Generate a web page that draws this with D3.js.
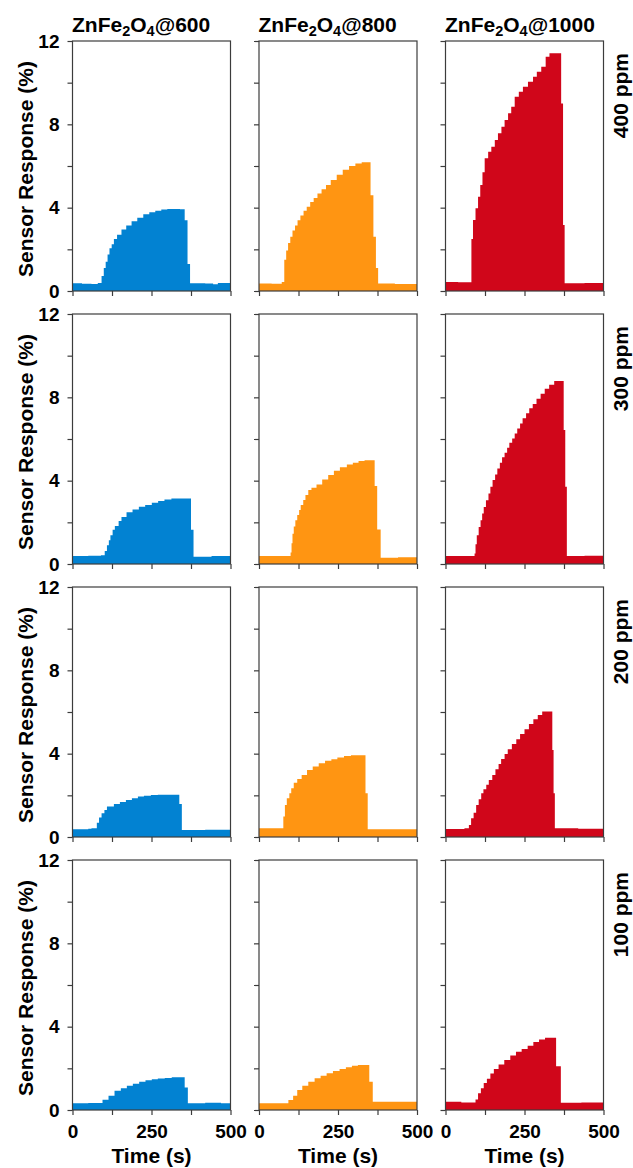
<!DOCTYPE html>
<html>
<head>
<meta charset="utf-8">
<script src="https://cdn.jsdelivr.net/npm/d3@7"></script>
<style>
  html, body { margin: 0; padding: 0; background: #fff; }
  svg { display: block; font-family: "Liberation Sans", Arial, Helvetica, sans-serif; }
</style>
</head>
<body>
<svg id="chart" width="633" height="1168"></svg>
<script>
// Calcination temperatures (columns) and gas concentrations (rows)
const temperatures = [600, 800, 1000];
const concentrations = ["400 ppm", "300 ppm", "200 ppm", "100 ppm"];
const seriesColors = ["#0282d2", "#ff9512", "#d0061a"];

const xTickValues = [0, 125, 250, 375, 500];
const xTickLabels = [0, 250, 500];
const yTickValues = [0, 2, 4, 6, 8, 10, 12];
const yTickLabels = [0, 4, 8, 12];

// Sensor response traces: [time (s), response (%)], sampled at each step
const resp600_400 = [[0,0.37],[30,0.35],[60,0.34],[80,0.38],[92,0.72],[99,1.1],[105,1.4],[111,1.75],[117,2.05],[124,2.25],[131,2.5],[141,2.7],[155,2.95],[170,3.15],[187,3.35],[205,3.52],[224,3.68],[243,3.78],[262,3.85],[281,3.91],[300,3.94],[340,3.92],[355,3.4],[364,1.3],[372,0.37],[420,0.36],[445,0.33],[460,0.38],[500,0.38]];
const resp800_400 = [[0,0.36],[40,0.35],[72,0.43],[80,1.5],[86,1.95],[92,2.3],[99,2.6],[106,2.9],[114,3.15],[122,3.4],[131,3.62],[141,3.85],[151,4.05],[162,4.27],[173,4.47],[185,4.68],[198,4.88],[212,5.09],[227,5.33],[246,5.58],[265,5.82],[285,6.0],[305,6.12],[325,6.18],[353,4.6],[362,2.6],[370,1.1],[377,0.36],[430,0.34],[500,0.33]];
const resp1000_400 = [[0,0.43],[40,0.42],[82,2.5],[87,3.41],[95,3.97],[103,4.53],[110,5.09],[117,5.7],[124,6.37],[135,6.69],[145,6.93],[156,7.25],[166,7.57],[177,7.89],[187,8.21],[198,8.53],[208,8.85],[219,9.33],[232,9.57],[245,9.81],[261,10.05],[277,10.29],[289,10.53],[303,10.77],[317,11.25],[329,11.41],[366,9.0],[372,3.17],[377,0.37],[440,0.38],[500,0.42]];

const resp600_300 = [[0,0.38],[50,0.4],[90,0.42],[102,0.63],[109,0.9],[115,1.14],[120,1.38],[127,1.65],[134,1.83],[146,2.07],[155,2.26],[171,2.49],[190,2.62],[210,2.75],[230,2.83],[251,2.94],[271,3.02],[291,3.1],[313,3.15],[375,1.64],[383,0.35],[440,0.38],[500,0.42]];
const resp800_300 = [[0,0.38],[50,0.39],[100,0.55],[103,1.0],[106,1.45],[110,1.8],[115,2.1],[121,2.35],[127,2.59],[132,2.83],[140,3.07],[147,3.31],[156,3.55],[166,3.66],[182,3.82],[200,4.06],[219,4.27],[237,4.48],[256,4.64],[278,4.78],[297,4.86],[315,4.94],[334,4.98],[366,3.74],[374,1.66],[385,0.3],[440,0.33],[500,0.36]];
const resp1000_300 = [[0,0.39],[50,0.38],[92,0.5],[95,0.95],[99,1.38],[105,1.78],[111,2.1],[116,2.42],[121,2.74],[128,3.06],[136,3.38],[142,3.71],[149,4.03],[157,4.3],[164,4.59],[172,4.86],[179,5.12],[187,5.34],[195,5.58],[202,5.82],[211,6.03],[219,6.27],[227,6.51],[236,6.75],[244,7.0],[255,7.24],[265,7.48],[276,7.68],[288,7.93],[301,8.17],[314,8.41],[328,8.6],[344,8.79],[374,6.43],[379,3.71],[384,0.39],[440,0.4],[500,0.4]];

const resp600_200 = [[0,0.37],[50,0.4],[60,0.42],[77,0.69],[84,0.94],[92,1.14],[101,1.3],[109,1.46],[131,1.58],[150,1.68],[169,1.78],[188,1.86],[207,1.94],[226,1.98],[248,2.02],[270,2.03],[338,1.58],[346,0.34],[420,0.35],[500,0.35]];
const resp800_200 = [[0,0.42],[50,0.42],[77,0.98],[82,1.54],[88,1.86],[96,2.1],[102,2.34],[110,2.61],[121,2.78],[135,2.98],[152,3.22],[170,3.38],[189,3.54],[209,3.66],[229,3.73],[248,3.82],[269,3.89],[291,3.92],[337,2.1],[344,0.37],[420,0.37],[500,0.38]];
const resp1000_200 = [[0,0.38],[40,0.38],[60,0.42],[74,0.58],[81,0.9],[89,1.17],[97,1.54],[105,1.81],[113,2.1],[120,2.29],[129,2.51],[137,2.74],[148,2.98],[158,3.25],[168,3.5],[176,3.74],[187,3.98],[197,4.21],[210,4.46],[224,4.69],[236,4.94],[250,5.17],[264,5.42],[278,5.65],[292,5.86],[306,6.02],[338,4.18],[342,2.1],[346,0.42],[420,0.4],[500,0.42]];

const resp600_100 = [[0,0.32],[50,0.34],[95,0.49],[114,0.69],[133,0.92],[153,1.05],[172,1.16],[191,1.26],[211,1.36],[231,1.43],[251,1.48],[270,1.51],[292,1.54],[314,1.57],[355,1.08],[365,0.32],[420,0.35],[470,0.33],[500,0.3]];
const resp800_100 = [[0,0.32],[50,0.32],[93,0.48],[108,0.69],[121,0.96],[137,1.17],[156,1.36],[176,1.52],[195,1.65],[214,1.76],[234,1.87],[255,1.97],[275,2.05],[294,2.13],[313,2.16],[349,1.36],[360,0.4],[430,0.4],[500,0.38]];
const resp1000_100 = [[0,0.4],[50,0.36],[95,0.5],[103,0.8],[112,1.05],[121,1.3],[131,1.5],[142,1.75],[153,1.97],[168,2.19],[186,2.4],[205,2.62],[223,2.8],[241,2.93],[260,3.08],[278,3.26],[296,3.38],[315,3.47],[350,2.1],[365,0.35],[430,0.36],[500,0.35]];

// Grid of traces: rows = concentration, columns = temperature
const traces = [
  [resp600_400, resp800_400, resp1000_400],
  [resp600_300, resp800_300, resp1000_300],
  [resp600_200, resp800_200, resp1000_200],
  [resp600_100, resp800_100, resp1000_100]
];

// Layout
const left0 = 72.5, colStep = 186.5, panelW = 158;
const top0 = 41, rowStep = 273, panelH = 250;
const axisColor = "#3c3c3c";
const labelFont = 21, tickFont = 19;

const svg = d3.select("#chart");

const x = d3.scaleLinear().domain([0, 500]).range([0, panelW]);
const y = d3.scaleLinear().domain([0, 12]).range([panelH, 0]);

const area = d3.area()
  .curve(d3.curveStepAfter)
  .x(d => x(d[0]))
  .y0(y(0))
  .y1(d => y(d[1]));

traces.forEach((row, r) => {
  row.forEach((data, c) => {
    const g = svg.append("g")
      .attr("transform", `translate(${left0 + c * colStep},${top0 + r * rowStep})`);

    g.append("path")
      .datum(data)
      .attr("d", area)
      .attr("fill", seriesColors[c]);

    // y axis (left)
    const yAxis = d3.axisLeft(y)
      .tickValues(yTickValues)
      .tickSize(5)
      .tickSizeOuter(0)
      .tickPadding(8)
      .tickFormat(d => (c === 0 && yTickLabels.includes(d)) ? d : "");
    const ya = g.append("g").call(yAxis);

    // x axis (bottom)
    const xAxis = d3.axisBottom(x)
      .tickValues(xTickValues)
      .tickSize(5)
      .tickSizeOuter(0)
      .tickPadding(9.5)
      .tickFormat(d => (r === traces.length - 1 && xTickLabels.includes(d)) ? d : "");
    const xa = g.append("g").attr("transform", `translate(0,${panelH})`).call(xAxis);

    [ya, xa].forEach(a => {
      a.select(".domain").remove();
      a.selectAll(".tick line").attr("stroke", axisColor).attr("stroke-width", 1.2);
      a.selectAll(".tick text")
        .attr("fill", "#000")
        .attr("font-size", tickFont)
        .attr("font-weight", "bold")
        .attr("font-family", "'Liberation Sans', Arial, sans-serif");
    });

    // panel frame
    g.append("rect")
      .attr("x", 0).attr("y", 0)
      .attr("width", panelW).attr("height", panelH)
      .attr("fill", "none")
      .attr("stroke", axisColor)
      .attr("stroke-width", 1.2);
  });

  // y axis title
  const cy = top0 + r * rowStep + panelH / 2 + 3;
  svg.append("text")
    .attr("transform", `translate(33,${cy}) rotate(-90)`)
    .attr("text-anchor", "middle")
    .attr("font-size", labelFont)
    .attr("font-weight", "bold")
    .text("Sensor Response (%)");

  // concentration label on the right
  svg.append("text")
    .attr("transform", `translate(628,${top0 + r * rowStep + 12}) rotate(-90)`)
    .attr("text-anchor", "end")
    .attr("font-size", labelFont)
    .attr("font-weight", "bold")
    .text(concentrations[r]);
});

// Column titles: ZnFe2O4@T with subscripts
temperatures.forEach((t, c) => {
  const txt = svg.append("text")
    .attr("x", left0 + c * colStep - 0.5)
    .attr("y", 32)
    .attr("font-size", labelFont)
    .attr("font-weight", "bold");
  txt.append("tspan").text("ZnFe");
  txt.append("tspan").attr("font-size", 14.5).attr("dy", 4).text("2");
  txt.append("tspan").attr("dy", -4).text("O");
  txt.append("tspan").attr("font-size", 14.5).attr("dy", 4).text("4");
  txt.append("tspan").attr("dy", -4).text("@" + t);

  // x axis title
  svg.append("text")
    .attr("x", left0 + c * colStep + panelW / 2)
    .attr("y", 1163)
    .attr("text-anchor", "middle")
    .attr("font-size", labelFont)
    .attr("font-weight", "bold")
    .text("Time (s)");
});
</script>
</body>
</html>
